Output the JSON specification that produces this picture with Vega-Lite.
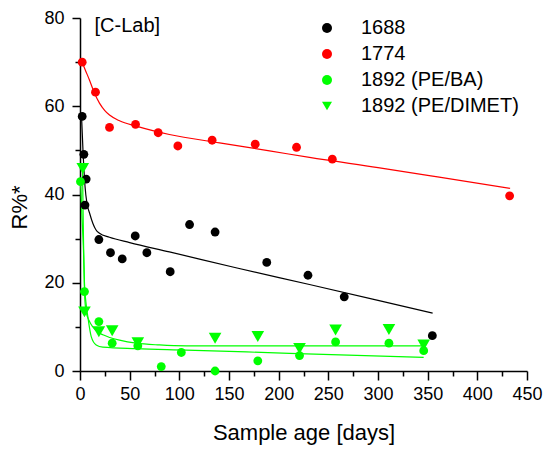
{
  "$schema": "https://vega.github.io/schema/vega-lite/v6.json",
  "width": 447,
  "height": 353,
  "autosize": {"type": "none"},
  "padding": {"left": 80, "top": 18, "right": 18, "bottom": 79},
  "background": "white",
  "datasets": {
    "pts": [
      {"series": "1688", "age": 2.2, "R": 57.7},
      {"series": "1688", "age": 3.9, "R": 49.1},
      {"series": "1688", "age": 6.2, "R": 43.5},
      {"series": "1688", "age": 5.0, "R": 37.6},
      {"series": "1688", "age": 19, "R": 29.8},
      {"series": "1688", "age": 30.7, "R": 26.8},
      {"series": "1688", "age": 42.5, "R": 25.4},
      {"series": "1688", "age": 55.6, "R": 30.6},
      {"series": "1688", "age": 67.3, "R": 26.8},
      {"series": "1688", "age": 90.8, "R": 22.5},
      {"series": "1688", "age": 110.3, "R": 33.2},
      {"series": "1688", "age": 136, "R": 31.5},
      {"series": "1688", "age": 188, "R": 24.6},
      {"series": "1688", "age": 229.5, "R": 21.7},
      {"series": "1688", "age": 266, "R": 16.8},
      {"series": "1688", "age": 354.7, "R": 8.0},
      {"series": "1774", "age": 2.2, "R": 70.0},
      {"series": "1774", "age": 15.6, "R": 63.2},
      {"series": "1774", "age": 29.7, "R": 55.2},
      {"series": "1774", "age": 55.9, "R": 55.9},
      {"series": "1774", "age": 78.7, "R": 54.0},
      {"series": "1774", "age": 98.5, "R": 51.0},
      {"series": "1774", "age": 133, "R": 52.3},
      {"series": "1774", "age": 176.4, "R": 51.4},
      {"series": "1774", "age": 218, "R": 50.7},
      {"series": "1774", "age": 254, "R": 48.0},
      {"series": "1774", "age": 432.5, "R": 39.7},
      {"series": "1892 (PE/BA)", "age": 0.5, "R": 42.9},
      {"series": "1892 (PE/BA)", "age": 4.5, "R": 18.0},
      {"series": "1892 (PE/BA)", "age": 19, "R": 11.2},
      {"series": "1892 (PE/BA)", "age": 32.4, "R": 6.3},
      {"series": "1892 (PE/BA)", "age": 58.2, "R": 5.7},
      {"series": "1892 (PE/BA)", "age": 81.8, "R": 1.0},
      {"series": "1892 (PE/BA)", "age": 102, "R": 4.2},
      {"series": "1892 (PE/BA)", "age": 136, "R": 0.0},
      {"series": "1892 (PE/BA)", "age": 179, "R": 2.3},
      {"series": "1892 (PE/BA)", "age": 221, "R": 3.5},
      {"series": "1892 (PE/BA)", "age": 257.3, "R": 6.6},
      {"series": "1892 (PE/BA)", "age": 311, "R": 6.3},
      {"series": "1892 (PE/BA)", "age": 346, "R": 4.6},
      {"series": "1892 (PE/DIMET)", "age": 2.8, "R": 45.9},
      {"series": "1892 (PE/DIMET)", "age": 4.5, "R": 13.4},
      {"series": "1892 (PE/DIMET)", "age": 19, "R": 8.9},
      {"series": "1892 (PE/DIMET)", "age": 32.4, "R": 9.1},
      {"series": "1892 (PE/DIMET)", "age": 58.2, "R": 6.4},
      {"series": "1892 (PE/DIMET)", "age": 136, "R": 7.4},
      {"series": "1892 (PE/DIMET)", "age": 179, "R": 7.8},
      {"series": "1892 (PE/DIMET)", "age": 221, "R": 5.1},
      {"series": "1892 (PE/DIMET)", "age": 257.3, "R": 9.3},
      {"series": "1892 (PE/DIMET)", "age": 311, "R": 9.4},
      {"series": "1892 (PE/DIMET)", "age": 346, "R": 5.9}
    ],
    "fits": [
      {"series": "1688", "age": 1.5, "R": 58},
      {"series": "1688", "age": 3, "R": 50},
      {"series": "1688", "age": 5, "R": 42},
      {"series": "1688", "age": 7, "R": 38},
      {"series": "1688", "age": 9.6, "R": 35.8},
      {"series": "1688", "age": 12.9, "R": 33.5},
      {"series": "1688", "age": 16, "R": 32},
      {"series": "1688", "age": 19.6, "R": 31.2},
      {"series": "1688", "age": 29.7, "R": 30.3},
      {"series": "1688", "age": 50, "R": 29.1},
      {"series": "1688", "age": 90, "R": 27.0},
      {"series": "1688", "age": 157, "R": 23.4},
      {"series": "1688", "age": 231, "R": 19.6},
      {"series": "1688", "age": 300, "R": 16.0},
      {"series": "1688", "age": 355, "R": 13.1},
      {"series": "1774", "age": 2.2, "R": 70.0},
      {"series": "1774", "age": 5, "R": 68.4},
      {"series": "1774", "age": 9.6, "R": 65.9},
      {"series": "1774", "age": 14, "R": 63.3},
      {"series": "1774", "age": 19.6, "R": 60.7},
      {"series": "1774", "age": 25, "R": 59.0},
      {"series": "1774", "age": 29.7, "R": 58.0},
      {"series": "1774", "age": 39.8, "R": 56.7},
      {"series": "1774", "age": 56.6, "R": 55.5},
      {"series": "1774", "age": 90, "R": 53.6},
      {"series": "1774", "age": 140.5, "R": 51.7},
      {"series": "1774", "age": 190.8, "R": 49.9},
      {"series": "1774", "age": 231, "R": 48.4},
      {"series": "1774", "age": 300, "R": 46.1},
      {"series": "1774", "age": 360, "R": 44.0},
      {"series": "1774", "age": 433, "R": 41.4},
      {"series": "1892 (PE/BA)", "age": 0.5, "R": 43},
      {"series": "1892 (PE/BA)", "age": 2, "R": 35},
      {"series": "1892 (PE/BA)", "age": 3.5, "R": 27.4},
      {"series": "1892 (PE/BA)", "age": 4.5, "R": 19.9},
      {"series": "1892 (PE/BA)", "age": 6, "R": 15.5},
      {"series": "1892 (PE/BA)", "age": 7.9, "R": 12.3},
      {"series": "1892 (PE/BA)", "age": 11.3, "R": 7.8},
      {"series": "1892 (PE/BA)", "age": 16.3, "R": 5.9},
      {"series": "1892 (PE/BA)", "age": 23, "R": 5.4},
      {"series": "1892 (PE/BA)", "age": 56.6, "R": 5.05},
      {"series": "1892 (PE/BA)", "age": 107, "R": 4.75},
      {"series": "1892 (PE/BA)", "age": 211, "R": 4.0},
      {"series": "1892 (PE/BA)", "age": 346, "R": 3.1},
      {"series": "1892 (PE/DIMET)", "age": 2.5, "R": 46},
      {"series": "1892 (PE/DIMET)", "age": 3.5, "R": 30},
      {"series": "1892 (PE/DIMET)", "age": 4.5, "R": 18},
      {"series": "1892 (PE/DIMET)", "age": 5.5, "R": 14.5},
      {"series": "1892 (PE/DIMET)", "age": 6.2, "R": 13.4},
      {"series": "1892 (PE/DIMET)", "age": 9, "R": 11.5},
      {"series": "1892 (PE/DIMET)", "age": 12.9, "R": 10.0},
      {"series": "1892 (PE/DIMET)", "age": 17, "R": 9.0},
      {"series": "1892 (PE/DIMET)", "age": 23, "R": 8.2},
      {"series": "1892 (PE/DIMET)", "age": 30, "R": 7.6},
      {"series": "1892 (PE/DIMET)", "age": 39.8, "R": 7.0},
      {"series": "1892 (PE/DIMET)", "age": 56.6, "R": 6.3},
      {"series": "1892 (PE/DIMET)", "age": 80, "R": 5.9},
      {"series": "1892 (PE/DIMET)", "age": 107, "R": 5.7},
      {"series": "1892 (PE/DIMET)", "age": 200, "R": 5.7},
      {"series": "1892 (PE/DIMET)", "age": 346, "R": 5.7}
    ],
    "label": [{"age": 14.6, "R": 78.2, "txt": "[C-Lab]"}]
  },
  "layer": [
    {
      "data": {"name": "fits"},
      "mark": {"type": "line", "strokeWidth": 1.2, "interpolate": "monotone"},
      "encoding": {
        "x": {"field": "age", "type": "quantitative", "scale": {"domain": [0, 450], "nice": false, "zero": false}, "axis": null},
        "y": {"field": "R", "type": "quantitative", "scale": {"domain": [0, 80], "nice": false}, "axis": null},
        "stroke": {"field": "series", "type": "nominal", "scale": {"range": ["#000000", "#ff0000", "#00ff00", "#00ff00"]}, "legend": null}
      }
    },
    {
      "data": {"name": "pts"},
      "mark": {"type": "point", "filled": true, "opacity": 1, "size": 78},
      "encoding": {
        "x": {"field": "age", "type": "quantitative", "axis": {"orient": "bottom", "values": [0, 50, 100, 150, 200, 250, 300, 350, 400, 450], "tickSize": 9, "labelPadding": 5, "labelFlush": false, "labelOverlap": false, "title": "Sample age [days]", "titlePadding": 19}},
        "y": {"field": "R", "type": "quantitative", "axis": {"orient": "left", "values": [0, 20, 40, 60, 80], "tickSize": 8, "labelPadding": 8, "labelFlush": false, "title": "R%*", "titlePadding": 12, "titleY": 189}},
        "color": {"field": "series", "type": "nominal", "scale": {"range": ["#000000", "#ff0000", "#00ff00", "#00ff00"]},
          "legend": {"title": null, "orient": "none", "legendX": 237, "legendY": 0}},
        "shape": {"field": "series", "type": "nominal", "scale": {"range": ["circle", "circle", "circle", "triangle-down"]},
          "legend": {"title": null, "orient": "none", "legendX": 237, "legendY": 0}}
      }
    },
    {
      "data": {"name": "pts"},
      "transform": [{"filter": "datum.series === '1892 (PE/DIMET)'"}],
      "mark": {"type": "point", "filled": true, "opacity": 1, "size": 160, "shape": "triangle-down", "color": "#00ff00"},
      "encoding": {
        "x": {"field": "age", "type": "quantitative", "axis": null},
        "y": {"field": "R", "type": "quantitative", "axis": null}
      }
    },
    {
      "data": {"name": "label"},
      "mark": {"type": "text", "align": "left", "baseline": "middle", "fontSize": 20, "font": "Liberation Sans", "color": "black"},
      "encoding": {
        "x": {"field": "age", "type": "quantitative", "axis": {"orient": "bottom", "values": [25, 75, 125, 175, 225, 275, 325, 375, 425], "tickSize": 5, "labels": false, "domain": false, "title": null}},
        "y": {"field": "R", "type": "quantitative", "axis": {"orient": "left", "values": [10, 30, 50, 70], "tickSize": 5, "labels": false, "domain": false, "title": null}},
        "text": {"field": "txt"}
      }
    }
  ],
  "resolve": {"axis": {"x": "independent", "y": "independent"}},
  "config": {
    "view": {"stroke": null},
    "axis": {"domainColor": "black", "domainWidth": 1.5, "tickColor": "black", "tickWidth": 1.5, "labelColor": "black", "titleColor": "black", "labelFont": "Liberation Sans", "titleFont": "Liberation Sans", "labelFontSize": 18, "titleFontSize": 22, "titleFontWeight": "normal", "grid": false},
    "legend": {"labelFont": "Liberation Sans", "labelFontSize": 20, "labelColor": "black", "symbolSize": 100, "rowPadding": 6, "labelOffset": 24}
  }
}
